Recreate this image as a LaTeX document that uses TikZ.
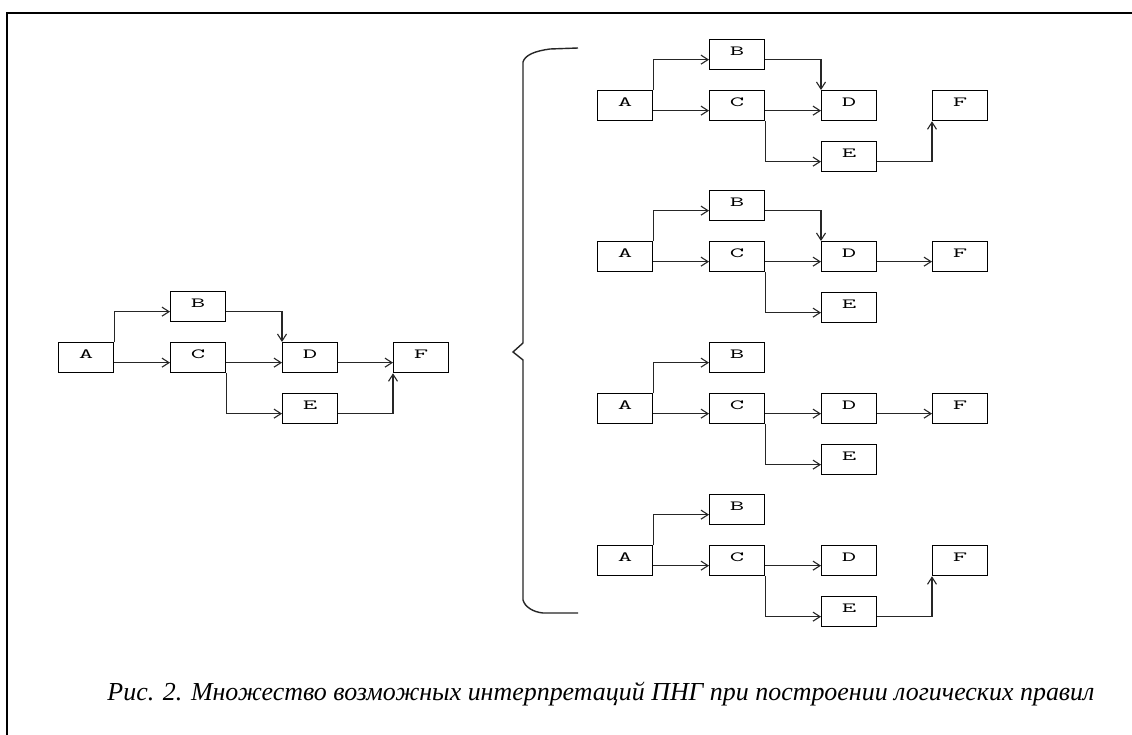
\documentclass[tikz,border=0pt]{standalone}
\usepackage{fontspec}
\setmainfont{Liberation Serif}
\usetikzlibrary{arrows.meta}
\tikzset{
  pbox/.style={draw=black, line width=1.3pt, minimum width=55pt, minimum height=30pt,
    inner sep=0pt, anchor=north west, font=\ttfamily\fontsize{14}{14}\selectfont},
  conn/.style={draw=black!85, line width=1.1pt, -{Straight Barb[length=7pt,width=9pt]}},
  bracepath/.style={draw=black!85, line width=1.4pt},
  frameline/.style={draw=black, line width=2.2pt},
}
\newcommand{\lbl}[1]{\smash{\raisebox{-1pt}{\scalebox{2}[1]{#1}}}}
\newcommand{\mkgroup}[3]{%
  \node[pbox] (#3A) at (#1,#2) {\lbl{A}};
  \node[pbox] (#3B) at (#1+112,#2-51) {\lbl{B}};
  \node[pbox] (#3C) at (#1+112,#2) {\lbl{C}};
  \node[pbox] (#3D) at (#1+224,#2) {\lbl{D}};
  \node[pbox] (#3E) at (#1+224,#2+51) {\lbl{E}};
  \node[pbox] (#3F) at (#1+335,#2) {\lbl{F}};
}
\newcommand{\eAB}[1]{\draw[conn] (#1A.north east) |- ([yshift=-5pt]#1B.west);}
\newcommand{\eAC}[1]{\draw[conn] ([yshift=-5pt]#1A.east) -- ([yshift=-5pt]#1C.west);}
\newcommand{\eBD}[1]{\draw[conn] ([yshift=-5pt]#1B.east) -| (#1D.north west);}
\newcommand{\eCD}[1]{\draw[conn] ([yshift=-5pt]#1C.east) -- ([yshift=-5pt]#1D.west);}
\newcommand{\eCE}[1]{\draw[conn] (#1C.south east) |- ([yshift=-5pt]#1E.west);}
\newcommand{\eDF}[1]{\draw[conn] ([yshift=-5pt]#1D.east) -- ([yshift=-5pt]#1F.west);}
\newcommand{\eEF}[1]{\draw[conn] ([yshift=-5pt]#1E.east) -| (#1F.south west);}
\begin{document}
\begin{tikzpicture}[x=1pt,y=-1pt]
\useasboundingbox (0,0) rectangle (1132,735);
\fill[white] (0,0) rectangle (1132,735);
% frame
\draw[frameline] (1132,13) -- (7,13) -- (7,735);
% left diagram
\mkgroup{58}{342}{L}
\eAB{L}\eAC{L}\eBD{L}\eCD{L}\eCE{L}\eDF{L}\eEF{L}
% brace
\draw[bracepath] (578,48) -- (550,49) .. controls (535,51) and (525,55) .. (523,62)
  -- (523,343) -- (513,352) -- (523,360) -- (523,600)
  .. controls (525,607) and (533,612) .. (543,613) -- (578,613);
% right diagrams
\mkgroup{597}{90}{Pa}
\eAB{Pa}\eAC{Pa}\eBD{Pa}\eCD{Pa}\eCE{Pa}\eEF{Pa}
\mkgroup{597}{241}{Pb}
\eAB{Pb}\eAC{Pb}\eBD{Pb}\eCD{Pb}\eCE{Pb}\eDF{Pb}
\mkgroup{597}{393}{Pc}
\eAB{Pc}\eAC{Pc}\eCD{Pc}\eCE{Pc}\eDF{Pc}
\mkgroup{597}{545}{Pd}
\eAB{Pd}\eAC{Pd}\eCD{Pd}\eCE{Pd}\eEF{Pd}
% caption
\node[anchor=base, inner sep=0pt] (cap) at (601,700)
  {\resizebox{987pt}{!}{\itshape\fontsize{26}{26}\selectfont Рис. 2. Множество возможных интерпретаций ПНГ при построении логических правил}};
\end{tikzpicture}
\end{document}
